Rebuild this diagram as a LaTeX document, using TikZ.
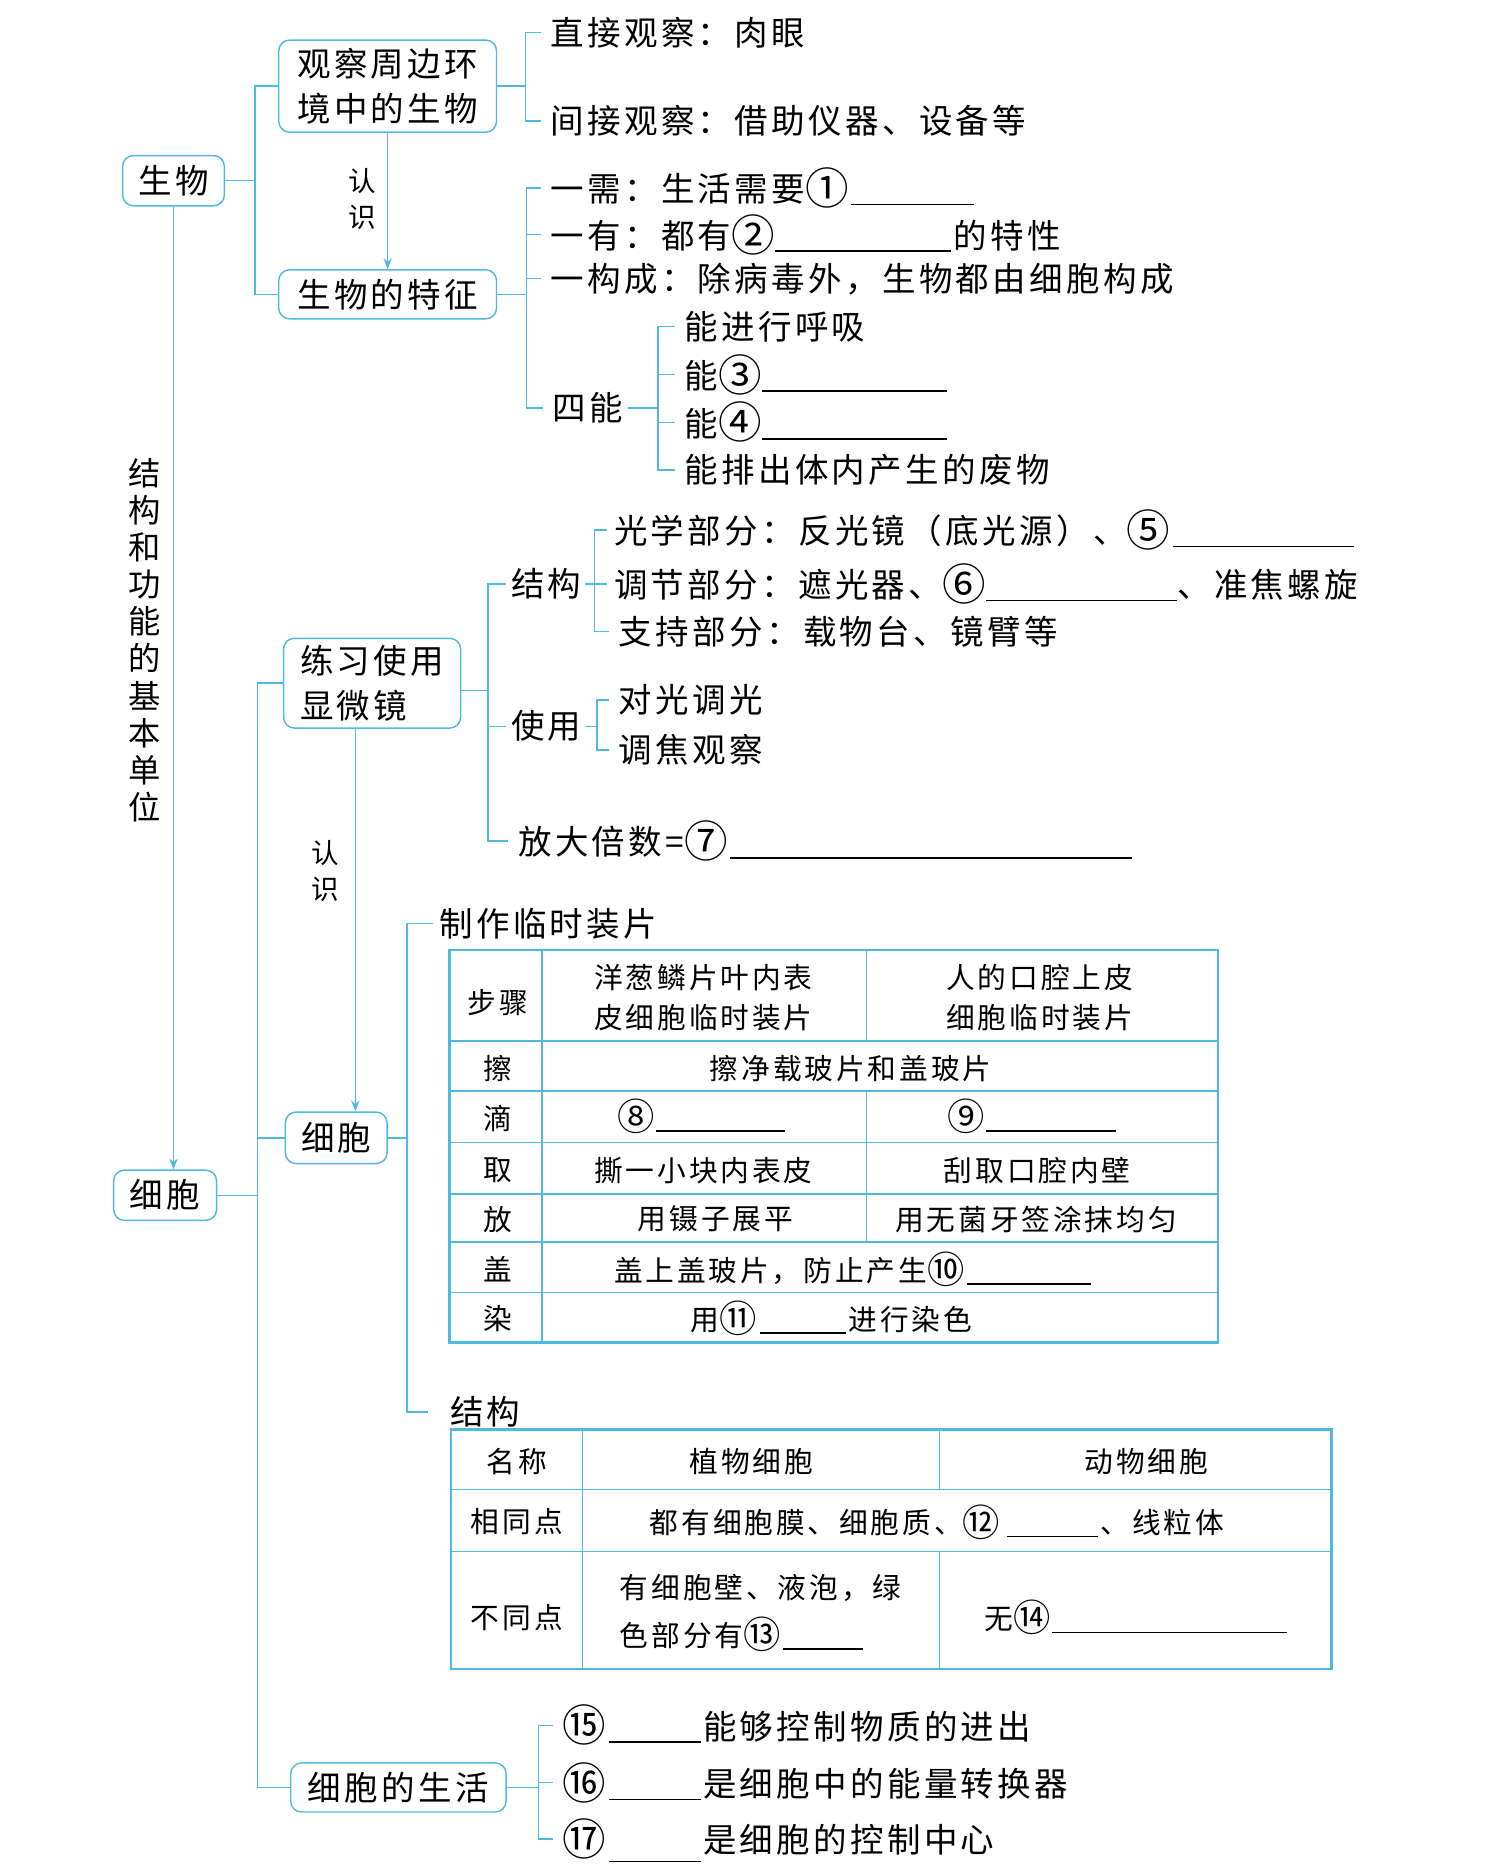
\documentclass[tikz,border=0pt]{standalone}
\usepackage{fontspec}
\usepackage{graphicx}
\setmainfont{Noto Sans CJK SC}[LetterSpace=10]
\usetikzlibrary{arrows.meta,calc}
\definecolor{lb}{RGB}{80,185,225}
\newcommand\mainsz{\fontsize{28}{37}\selectfont}
\newcommand\tabsz{\fontsize{24}{33}\selectfont}
\newcommand\smallsz{\fontsize{23}{30}\selectfont}
\newcommand\bl[1]{\rule[-3pt]{#1pt}{1.3pt}}
\newcommand\cn[1]{\raisebox{-0.08em}{\scalebox{1.3}{#1}}}
\tikzset{
  conn/.style={draw=lb, line width=1.2pt},
  tick/.style={conn, shorten >=#1},
  tick/.default=8pt,
  box/.style={draw=lb, line width=1.2pt, rounded corners=9pt, font=\mainsz, inner sep=0pt, align=center},
  leaf/.style={anchor=west, inner sep=0pt, font=\mainsz},
  cell/.style={inner sep=0pt, font=\tabsz, align=center},
  lcell/.style={anchor=west, inner sep=0pt, font=\tabsz, align=left},
  arr/.style={conn, -{Stealth[length=9pt,width=7pt]}},
  lab/.style={inner sep=0pt, font=\smallsz, align=center},
  outer/.style={draw=lb, line width=2.4pt},
  inner/.style={draw=lb, line width=1.1pt},
}
\begin{document}
\begin{tikzpicture}[x=1pt,y=-1pt]
\useasboundingbox (0,0) rectangle (1248,1568);

% ---------- top part: 生物 ----------
\node[box, minimum width=85pt, minimum height=42pt] (sw) at (145,151) {生物};
\node[box, minimum width=182pt, minimum height=77pt] (gc) at (324,72) {观察周边环\\境中的生物};
\node[box, minimum width=182pt, minimum height=41pt] (tz) at (324,246) {生物的特征};

\node[leaf] (zj) at (460,27) {直接观察：肉眼};
\node[leaf] (jj) at (460,101) {间接观察：借助仪器、设备等};

\node[leaf] (yx) at (460,157) {一需：生活需要\cn{①}\hspace{2pt}\bl{103}};
\node[leaf] (yy) at (460,196) {一有：都有\cn{②}\bl{147}\hspace{2pt}的特性};
\node[leaf] (yg) at (460,233) {一构成：除病毒外，生物都由细胞构成};
\node[leaf] (sn) at (462,341) {四能};
\node[leaf] (n1) at (572,273) {能进行呼吸};
\node[leaf] (n2) at (572,313) {能\cn{③}\bl{155}};
\node[leaf] (n3) at (572,353) {能\cn{④}\bl{155}};
\node[leaf] (n4) at (572,393) {能排出体内产生的废物};

\coordinate (j1) at (213,151);
\draw[conn] (sw.east) -- (j1);
\draw[conn] (j1) |- (gc.west);
\draw[conn] (j1) |- (tz.west);
\draw[arr] (gc.south) -- (tz.north);
\node[lab] (rs1) at (303,166) {认\\识};

\coordinate (j2) at (439,72);
\draw[conn] (gc.east) -- (j2);
\draw[tick] (j2) |- (zj.west);
\draw[tick] (j2) |- (jj.west);

\coordinate (j3) at (440,246);
\draw[conn] (tz.east) -- (j3);
\draw[tick] (j3) |- (yx.west);
\draw[tick] (j3) |- (yy.west);
\draw[tick] (j3) |- (yg.west);
\draw[tick] (j3) |- (sn.west);

\coordinate (j4) at (550,341);
\draw[conn, shorten <=4pt] (sn.east) -- (j4);
\draw[tick] (j4) |- (n1.west);
\draw[tick] (j4) |- (n2.west);
\draw[tick] (j4) |- (n3.west);
\draw[tick] (j4) |- (n4.west);

% ---------- left spine ----------
\node[box, minimum width=86pt, minimum height=42pt] (xb) at (138,999) {细胞};
\draw[arr] (sw.south) -- (sw.south |- xb.north);
\node[inner sep=0pt, font=\fontsize{27}{31}\selectfont, align=center] (vl) at (121,535)
  {结\\构\\和\\功\\能\\的\\基\\本\\单\\位};

\node[box, minimum width=148pt, minimum height=75pt, align=left] (lx) at (311,571) {练习使用\\显微镜};
\node[box, minimum width=85pt, minimum height=43pt] (xm) at (281,951) {细胞};
\node[box, minimum width=180pt, minimum height=41pt] (sh) at (333,1494) {细胞的生活};

\coordinate (j5) at (215,999);
\draw[conn] (xb.east) -- (j5);
\draw[conn] (j5) |- (lx.west);
\draw[conn] (j5) |- (xm.west);
\draw[conn] (j5) |- (sh.west);

% ---------- microscope ----------
\node[leaf] (jg) at (427,488) {结构};
\node[leaf] (sy) at (427,607) {使用};
\node[leaf] (fd) at (433,703) {放大倍数=\cn{⑦}\hspace{2pt}\bl{336}};
\node[leaf] (gx) at (513,443) {光学部分：反光镜（底光源）、\cn{⑤}\hspace{2pt}\bl{152}};
\node[leaf] (tj) at (513,488) {调节部分：遮光器、\cn{⑥}\bl{160}、准焦螺旋};
\node[leaf] (zc) at (517,528) {支持部分：载物台、镜臂等};
\node[leaf] (dg) at (517,585) {对光调光};
\node[leaf] (tg) at (517,627) {调焦观察};

\coordinate (j6) at (408,577);
\draw[conn] (lx.east |- j6) -- (j6);
\draw[tick=4pt] (j6) |- (jg.west);
\draw[tick=4pt] (j6) |- (sy.west);
\draw[tick=8pt] (j6) |- (fd.west);

\coordinate (j7) at (497,488);
\draw[conn, shorten <=3pt] (jg.east) -- (j7);
\draw[tick=6pt] (j7) |- (gx.west);
\draw[tick=6pt] (j7) |- (tj.west);
\draw[tick=8pt] (j7) |- (zc.west);

\coordinate (j8) at (499,607);
\draw[conn, shorten <=3pt] (sy.east) -- (j8);
\draw[tick=8pt] (j8) |- (dg.west);
\draw[tick=8pt] (j8) |- (tg.west);

\coordinate (a2) at (297,0);
\draw[arr] (lx.south -| a2) -- (xm.north -| a2);
\node[lab] (rs2) at (272,728) {认\\识};

% ---------- 细胞 branch ----------
\node[leaf] (zz) at (367,772) {制作临时装片};
\node[leaf] (jg2) at (376,1180) {结构};
\coordinate (j9) at (340,951);
\draw[conn] (xm.east) -- (j9);
\draw[tick=5pt] (j9) |- (zz.west);
\draw[tick=18pt] (j9) |- (jg2.west);

% ---------- table 1 ----------
\foreach \yy in {870,912,955,998,1038,1080}
  \draw[inner] (376,\yy) -- (1018,\yy);
\draw[inner] (453,794) -- (453,1122);
\draw[inner] (724,794) -- (724,870);
\draw[inner] (724,912) -- (724,1038);
\draw[outer] (376,794) rectangle (1018,1122);

\node[cell] (a0) at (416,838) {步骤};
\node[cell] (b0) at (588,834) {洋葱鳞片叶内表\\皮细胞临时装片};
\node[cell] (c0) at (869,834) {人的口腔上皮\\细胞临时装片};
\node[cell] (a1) at (416,893) {擦};
\node[cell] (b1) at (711,893) {擦净载玻片和盖玻片};
\node[cell] (a2c) at (416,935) {滴};
\node[lcell] (b2) at (516,933) {\cn{⑧}\hspace{1pt}\bl{108}};
\node[lcell] (c2) at (792,933) {\cn{⑨}\hspace{1pt}\bl{108}};
\node[cell] (a3) at (416,978) {取};
\node[cell] (b3) at (588,978) {撕一小块内表皮};
\node[cell] (c3) at (867,978) {刮取口腔内壁};
\node[cell] (a4) at (416,1019) {放};
\node[cell] (b4) at (598,1019) {用镊子展平};
\node[cell] (c4) at (866,1019) {用无菌牙签涂抹均匀};
\node[cell] (a5) at (416,1061) {盖};
\node[lcell] (b5) at (513,1061) {盖上盖玻片，防止产生\cn{⑩}\hspace{2pt}\bl{104}};
\node[cell] (a6) at (416,1102) {染};
\node[lcell] (b6) at (577,1102) {用\cn{⑪}\hspace{3pt}\bl{72}\hspace{2pt}进行染色};

% ---------- table 2 ----------
\draw[inner] (377,1245) -- (1113,1245);
\draw[inner] (377,1297) -- (1113,1297);
\draw[inner] (487,1195) -- (487,1395);
\draw[inner] (785,1195) -- (785,1245);
\draw[inner] (785,1297) -- (785,1395);
\draw[outer] (377,1195) rectangle (1113,1395);

\node[cell] (m0) at (432,1222) {名称};
\node[cell] (p0) at (628,1222) {植物细胞};
\node[cell] (q0) at (958,1222) {动物细胞};
\node[cell] (m1) at (432,1272) {相同点};
\node[lcell] (p1) at (543,1272) {都有细胞膜、细胞质、\cn{⑫}\hspace{6pt}\bl{76}\hspace{2pt}、线粒体};
\node[cell] (m2) at (432,1352) {不同点};
\node[lcell, font=\fontsize{24}{40}\selectfont] (p2) at (518,1348) {有细胞壁、液泡，绿\\色部分有\cn{⑬}\hspace{2pt}\bl{67}};
\node[lcell] (q2) at (823,1352) {无\cn{⑭}\hspace{1pt}\bl{196}};

% ---------- 细胞的生活 ----------
\node[leaf] (c15) at (470,1442) {\cn{⑮}\hspace{2pt}\bl{77}\hspace{2pt}能够控制物质的进出};
\node[leaf] (c16) at (470,1490) {\cn{⑯}\hspace{2pt}\bl{77}\hspace{2pt}是细胞中的能量转换器};
\node[leaf] (c17) at (470,1537) {\cn{⑰}\hspace{2pt}\smash{\rule[-8pt]{77pt}{1.3pt}}\hspace{2pt}是细胞的控制中心};
\coordinate (j10) at (450,1494);
\draw[conn] (sh.east) -- (j10);
\draw[tick] (j10) |- (c15.west);
\draw[tick] (j10) |- (c16.west);
\draw[tick] (j10) |- (c17.west);
\end{tikzpicture}
\end{document}
